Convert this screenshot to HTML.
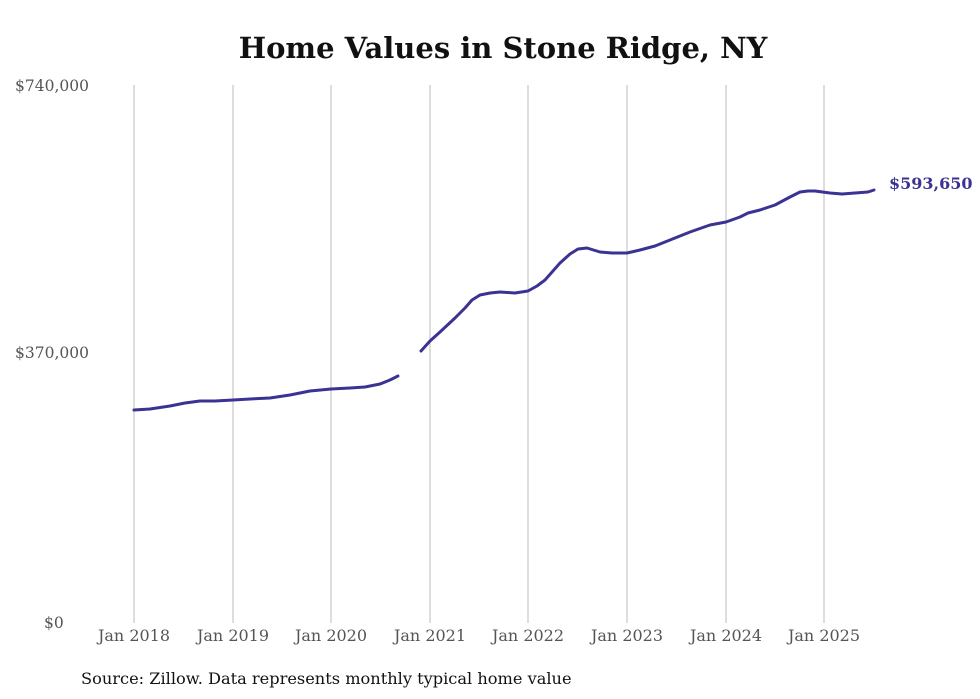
<!DOCTYPE html>
<html><head><style>
body{margin:0;background:#fff;}
svg{display:block;font-family:"DejaVu Serif","Liberation Serif",serif;}
</style></head><body>
<svg width="980" height="699" viewBox="0 0 980 699">
<rect width="980" height="699" fill="#fff"/>
<text x="503" y="58" text-anchor="middle" font-size="29" font-weight="bold" fill="#111">Home Values in Stone Ridge, NY</text>
<g stroke="#bbb" stroke-width="1">
<line x1="134" y1="85" x2="134" y2="623"/><line x1="233" y1="85" x2="233" y2="623"/>
<line x1="331" y1="85" x2="331" y2="623"/><line x1="430" y1="85" x2="430" y2="623"/>
<line x1="528" y1="85" x2="528" y2="623"/><line x1="627" y1="85" x2="627" y2="623"/>
<line x1="726" y1="85" x2="726" y2="623"/><line x1="824" y1="85" x2="824" y2="623"/>
</g>
<g font-size="15.5" fill="#555">
<text x="15" y="91">$740,000</text>
<text x="15" y="358">$370,000</text>
<text x="44" y="628">$0</text>
</g>
<g font-size="16" fill="#555" text-anchor="middle">
<text x="134" y="641">Jan 2018</text><text x="233" y="641">Jan 2019</text>
<text x="331" y="641">Jan 2020</text><text x="430" y="641">Jan 2021</text>
<text x="528" y="641">Jan 2022</text><text x="627" y="641">Jan 2023</text>
<text x="726" y="641">Jan 2024</text><text x="824" y="641">Jan 2025</text>
</g>
<g fill="none" stroke="#3a3393" stroke-width="3" stroke-linejoin="round" stroke-linecap="round">
<polyline points="134,410 150,409 170,406 185,403 200,401 215,401 233,400 250,399 270,398 290,395 310,391 331,389 350,388 365,387 380,384 390,380 398,376"/>
<polyline points="421,351 430,341 440,332 455,318 465,308 472,300 480,295 490,293 500,292 515,293 528,291 537,286 545,280 560,263 570,254 578,249 587,248 600,252 612,253 627,253 640,250 655,246 670,240 690,232 710,225 726,222 740,217 748,213 760,210 775,205 790,197 800,192 808,191 815,191 830,193 842,194 855,193 868,192 874,190"/>
</g>
<text x="889" y="189" font-size="16" font-weight="bold" fill="#3a3393">$593,650</text>
<text x="81" y="684" font-size="16.2" fill="#111">Source: Zillow. Data represents monthly typical home value</text>
</svg>
</body></html>
